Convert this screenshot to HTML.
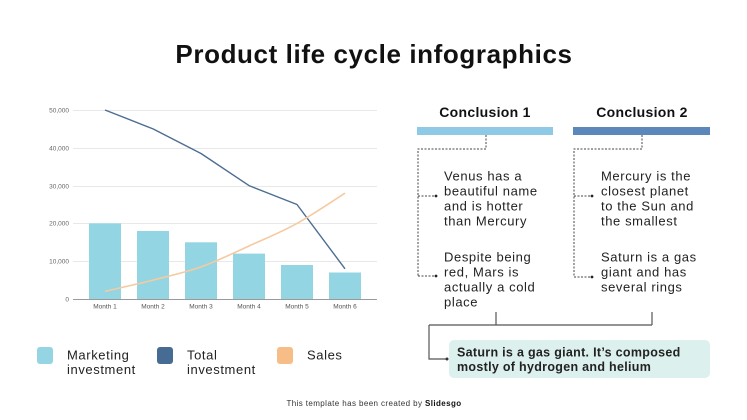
<!DOCTYPE html>
<html>
<head>
<meta charset="utf-8">
<style>
html,body{margin:0;padding:0;background:#fff;}
body{width:747px;height:420px;overflow:hidden;}
svg{display:block;font-family:"Liberation Sans",sans-serif;}
</style>
</head>
<body>
<svg width="747" height="420" viewBox="0 0 747 420" xmlns="http://www.w3.org/2000/svg">
  <rect width="747" height="420" fill="#ffffff"/>
  <!-- Title -->
  <text x="374" y="63" text-anchor="middle" font-size="26" font-weight="bold" letter-spacing="0.6" fill="#111">Product life cycle infographics</text>

  <!-- Chart gridlines -->
  <g stroke="#e8e8e8" stroke-width="1">
    <line x1="73" y1="110.5" x2="377" y2="110.5"/>
    <line x1="73" y1="148.5" x2="377" y2="148.5"/>
    <line x1="73" y1="186.5" x2="377" y2="186.5"/>
    <line x1="73" y1="223.5" x2="377" y2="223.5"/>
    <line x1="73" y1="261.5" x2="377" y2="261.5"/>
  </g>
  <g font-size="6.5" fill="#666" text-anchor="end">
    <text x="69" y="112.5">50,000</text>
    <text x="69" y="150.5">40,000</text>
    <text x="69" y="188.5">30,000</text>
    <text x="69" y="225.5">20,000</text>
    <text x="69" y="263.5">10,000</text>
    <text x="69" y="301.5">0</text>
  </g>
  <!-- Bars -->
  <g fill="#93d5e3">
    <rect x="89" y="223.4" width="32" height="75.6"/>
    <rect x="137" y="231" width="32" height="68"/>
    <rect x="185" y="242.3" width="32" height="56.7"/>
    <rect x="233" y="253.6" width="32" height="45.4"/>
    <rect x="281" y="265" width="32" height="34"/>
    <rect x="329" y="272.5" width="32" height="26.5"/>
  </g>
  <line x1="73" y1="299.5" x2="377" y2="299.5" stroke="#9a9a9a" stroke-width="1"/>
  <g font-size="6.5" fill="#555" text-anchor="middle">
    <text x="105" y="308.5">Month 1</text>
    <text x="153" y="308.5">Month 2</text>
    <text x="201" y="308.5">Month 3</text>
    <text x="249" y="308.5">Month 4</text>
    <text x="297" y="308.5">Month 5</text>
    <text x="345" y="308.5">Month 6</text>
  </g>
  <!-- Total investment -->
  <polyline points="105,110 153,128.9 201,153.5 249,185.6 297,204.5 345,268.8" fill="none" stroke="#4d6d92" stroke-width="1.4" stroke-linejoin="round"/>
  <!-- Sales -->
  <path d="M105,291.4 C113,289.5 137,284.2 153,280.1 C169,276 185,272.6 201,266.9 C217,261.2 233,253.25 249,246 C265,238.75 281,232.2 297,223.4 C313,214.6 337,198.2 345,193.2" fill="none" stroke="#f6caa0" stroke-width="1.6"/>

  <!-- Legend -->
  <rect x="37" y="347" width="16" height="17" rx="3" fill="#95d4e2"/>
  <rect x="157" y="347" width="16" height="17" rx="3" fill="#466c94"/>
  <rect x="277" y="347" width="16" height="17" rx="3" fill="#f7bd86"/>
  <g font-size="13" fill="#222" letter-spacing="0.6">
    <text x="67" y="359.5">Marketing</text>
    <text x="67" y="374">investment</text>
    <text x="187" y="359.5">Total</text>
    <text x="187" y="374">investment</text>
    <text x="307" y="359.5">Sales</text>
  </g>

  <!-- Conclusions headings -->
  <g font-size="14" font-weight="bold" fill="#111" text-anchor="middle" letter-spacing="0.3">
    <text x="485" y="117">Conclusion 1</text>
    <text x="642" y="117">Conclusion 2</text>
  </g>
  <rect x="417" y="127" width="136" height="8" fill="#8ecae6"/>
  <rect x="573" y="127" width="137" height="8" fill="#5b87bb"/>

  <!-- Dotted connectors -->
  <g fill="none" stroke="#444" stroke-width="1" stroke-dasharray="2 1.5">
    <path d="M486,135 V149 H418 V276"/>
    <path d="M418,196 H435"/>
    <path d="M418,276 H435"/>
    <path d="M642,135 V149 H574 V277"/>
    <path d="M574,196 H591"/>
    <path d="M574,277 H591"/>
  </g>
  <g fill="#222">
    <circle cx="436" cy="196" r="1.4"/>
    <circle cx="436" cy="276" r="1.4"/>
    <circle cx="592" cy="196" r="1.4"/>
    <circle cx="592" cy="277" r="1.4"/>
  </g>
  <g font-size="13" fill="#222" letter-spacing="0.6">
    <text x="444" y="180.5">Venus has a</text>
    <text x="444" y="195.5">beautiful name</text>
    <text x="444" y="210.5">and is hotter</text>
    <text x="444" y="225.5">than Mercury</text>
    <text x="444" y="261.5">Despite being</text>
    <text x="444" y="276.5">red, Mars is</text>
    <text x="444" y="291.5">actually a cold</text>
    <text x="444" y="306.5">place</text>
    <text x="601" y="180.5">Mercury is the</text>
    <text x="601" y="195.5">closest planet</text>
    <text x="601" y="210.5">to the Sun and</text>
    <text x="601" y="225.5">the smallest</text>
    <text x="601" y="261.5">Saturn is a gas</text>
    <text x="601" y="276.5">giant and has</text>
    <text x="601" y="291.5">several rings</text>
  </g>

  <!-- Solid connectors -->
  <g fill="none" stroke="#555" stroke-width="1.2">
    <path d="M496,312 V325"/>
    <path d="M652,312 V325"/>
    <path d="M429,325 H652"/>
    <path d="M429,325 V359 H446"/>
  </g>
  <circle cx="447" cy="359" r="1.5" fill="#333"/>
  <rect x="449" y="340" width="261" height="38" rx="5" fill="#dcf1ed"/>
  <g font-size="12.5" font-weight="bold" fill="#222" letter-spacing="0.3">
    <text x="457" y="356.5">Saturn is a gas giant. It’s composed</text>
    <text x="457" y="371">mostly of hydrogen and helium</text>
  </g>

  <!-- Footer -->
  <text x="374" y="406" text-anchor="middle" font-size="8" fill="#333" letter-spacing="0.4">This template has been created by <tspan font-weight="bold" fill="#111">Slidesgo</tspan></text>
</svg>
</body>
</html>
